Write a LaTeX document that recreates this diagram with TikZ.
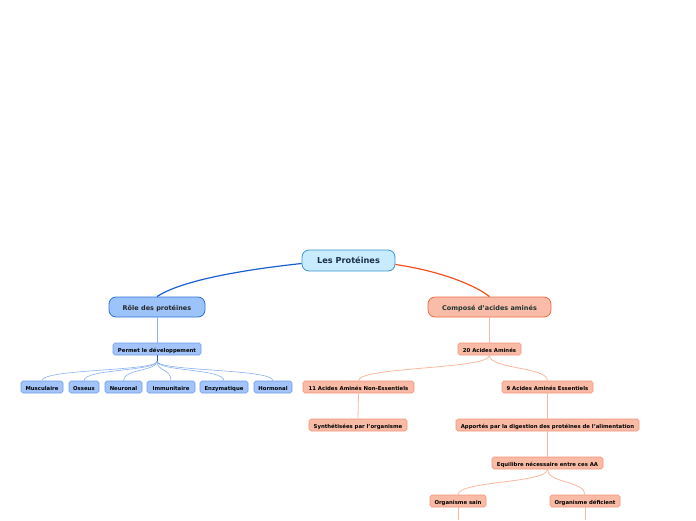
\documentclass[tikz,border=0pt]{standalone}
\usepackage{fontspec}
\usetikzlibrary{calc}
\setmainfont{DejaVu Sans}
\definecolor{rootfill}{HTML}{C8EBFD}
\definecolor{rootdraw}{HTML}{3A94D2}
\definecolor{roottext}{HTML}{1A2F4A}
\definecolor{bfill}{HTML}{9DC4FA}
\definecolor{bdraw}{HTML}{2F6FD8}
\definecolor{ofill}{HTML}{F8BCA8}
\definecolor{odraw}{HTML}{F06A44}
\definecolor{otext}{HTML}{1E3530}
\definecolor{sbfill}{HTML}{A2C4FA}
\definecolor{sbdraw}{HTML}{6E9CE8}
\definecolor{sofill}{HTML}{F9BBA6}
\definecolor{sodraw}{HTML}{F4937A}
\definecolor{bline}{HTML}{1A5FD0}
\definecolor{oline}{HTML}{F0531F}
\definecolor{lbline}{HTML}{8AB0F0}
\definecolor{loline}{HTML}{F8B8A0}
\tikzset{
  evenbase/.style={text height=1.6ex, text depth=0.4ex},
  rootbox/.style={draw=rootdraw, fill=rootfill, line width=0.8pt, rounded corners=7pt,
    minimum width=93pt, minimum height=21pt, inner sep=0pt, text=roottext, evenbase,
    font=\fontsize{8.2}{9}\selectfont\bfseries},
  bluebig/.style={draw=bdraw, fill=bfill, line width=0.8pt, rounded corners=7pt,
    minimum height=20pt, inner sep=0pt, text=black!85, evenbase,
    font=\fontsize{6.5}{7}\selectfont\bfseries},
  orangebig/.style={draw=odraw, fill=ofill, line width=0.8pt, rounded corners=7pt,
    minimum height=20pt, inner sep=0pt, text=otext, evenbase,
    font=\fontsize{6.5}{7}\selectfont\bfseries},
  bluesmall/.style={draw=sbdraw, fill=sbfill, line width=0.6pt, rounded corners=1.8pt,
    minimum height=12pt, inner sep=0pt, text=black, evenbase,
    font=\fontsize{5.35}{6}\selectfont\bfseries},
  orangesmall/.style={draw=sodraw, fill=sofill, line width=0.6pt, rounded corners=1.8pt,
    minimum height=12pt, inner sep=0pt, text=black, evenbase,
    font=\fontsize{5.35}{6}\selectfont\bfseries},
  bconn/.style={draw=lbline, line width=0.6pt},
  oconn/.style={draw=loline, line width=0.8pt},
}
\begin{document}
\begin{tikzpicture}[x=1pt, y=-1pt]
\useasboundingbox (0,0) rectangle (696,520);
% nodes
\node[rootbox] (root) at (348.5,260.5) {Les Protéines};
\node[bluebig, minimum width=96pt] (role) at (157,307) {Rôle des protéines};
\node[orangebig, minimum width=123pt] (comp) at (489.5,307) {Composé d'acides aminés};
\node[bluesmall, minimum width=88pt] (perm) at (157,349) {Permet le développement};
\node[bluesmall, minimum width=42pt] (musc) at (42,387) {Musculaire};
\node[bluesmall, minimum width=30pt] (oss) at (84,387) {Osseux};
\node[bluesmall, minimum width=37pt] (neur) at (123.5,387) {Neuronal};
\node[bluesmall, minimum width=48pt] (immu) at (171,387) {Immunitaire};
\node[bluesmall, minimum width=48pt] (enzy) at (224,387) {Enzymatique};
\node[bluesmall, minimum width=38pt] (horm) at (273,387) {Hormonal};
\node[orangesmall, minimum width=63pt] (vingt) at (489.5,349) {20 Acides Aminés};
\node[orangesmall, minimum width=111pt] (onze) at (358.5,387) {11 Acides Aminés Non-Essentiels};
\node[orangesmall, minimum width=91pt] (neuf) at (547.5,387) {9 Acides Aminés Essentiels};
\node[orangesmall, minimum width=98pt] (synth) at (358,425) {Synthétisées par l'organisme};
\node[orangesmall, minimum width=183pt] (appo) at (547.5,425) {Apportés par la digestion des protéines de l'alimentation};
\node[orangesmall, minimum width=111pt] (equi) at (547.5,463) {Equilibre nécessaire entre ces AA};
\node[orangesmall, minimum width=56pt] (sain) at (458,501) {Organisme sain};
\node[orangesmall, minimum width=70pt] (defi) at (585,501) {Organisme déficient};
\coordinate (sainend) at (458,520);
\coordinate (defiend) at (585,520);
% main connectors
\draw[bline, line width=1.2pt] ($(root.west)+(0,3)$) .. controls (260,268) and (185,278) .. (role.north);
\draw[oline, line width=1.2pt] ($(root.east)+(0,4)$) .. controls (440,271) and (475,285) .. (comp.north);
% left branch
\draw[bconn] (role.south) -- (perm.north);
\draw[bline, line width=0.8pt] (perm.south) -- ++(0,7);
\foreach \c in {musc,oss,neur,immu,enzy,horm}{
  \draw[bconn] ($(perm.south)+(0,6)$) .. controls ($(perm.south)+(0,16)$) and ($(\c.north)+(0,-12)$) .. (\c.north);
}
% right branch
\draw[oconn] (comp.south) -- (vingt.north);
\draw[oconn] (vingt.south) .. controls ($(vingt.south)+(0,14)$) and ($(onze.north)+(0,-14)$) .. (onze.north);
\draw[oconn] (vingt.south) .. controls ($(vingt.south)+(0,14)$) and ($(neuf.north)+(0,-14)$) .. (neuf.north);
\draw[oconn] (onze.south) -- (synth.north);
\draw[oconn] (neuf.south) -- (appo.north);
\draw[oconn] (appo.south) -- (equi.north);
\draw[oconn] (equi.south) .. controls ($(equi.south)+(0,14)$) and ($(sain.north)+(0,-14)$) .. (sain.north);
\draw[oconn] (equi.south) .. controls ($(equi.south)+(0,14)$) and ($(defi.north)+(0,-14)$) .. (defi.north);
\draw[oconn] (sain.south) -- (sainend);
\draw[oconn] (defi.south) -- (defiend);
\end{tikzpicture}
\end{document}
